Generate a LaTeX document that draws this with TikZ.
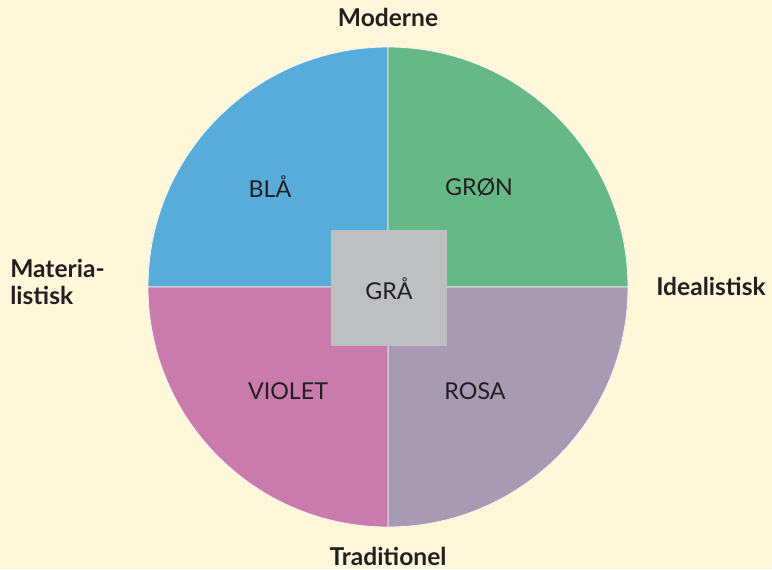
\documentclass[tikz,border=0pt]{standalone}
\usepackage{fontspec}
\setmainfont{Lato}
\usetikzlibrary{positioning}
\definecolor{creme}{HTML}{FFF7D9}
\definecolor{blaa}{HTML}{58ACD9}
\definecolor{groen}{HTML}{66B887}
\definecolor{violet}{HTML}{C97BAC}
\definecolor{rosa}{HTML}{A79AB2}
\definecolor{graa}{HTML}{BEBFC1}
\definecolor{tekst}{HTML}{231F20}
\tikzset{
	%Define style for the axis labels
	akse/.style={text=tekst, font=\fontsize{18.5}{21}\selectfont\bfseries, inner sep=0pt},
	%Define style for the colour labels
	felt/.style={text=tekst, font=\fontsize{17.5}{20}\selectfont, inner sep=0pt},
	% Define style for the quadrants
	kvadrant/.style={draw=white!85!graa, line width=0.6pt}
}
\begin{document}
\begin{tikzpicture}[x=0.02646cm, y=-0.02646cm]
	\fill[creme] (0,0) rectangle (772,569);
	\useasboundingbox (0,0) rectangle (772,569);
	\coordinate (centrum) at (388,287);
	% quadrants
	\filldraw[kvadrant, fill=blaa]   (centrum) -- +(180:240) arc (180:270:240) -- cycle;
	\filldraw[kvadrant, fill=groen]  (centrum) -- +(270:240) arc (270:360:240) -- cycle;
	\filldraw[kvadrant, fill=rosa]   (centrum) -- +(0:240) arc (0:90:240) -- cycle;
	\filldraw[kvadrant, fill=violet] (centrum) -- +(90:240) arc (90:180:240) -- cycle;
	% node GRÅ
	\node[fill=graa, minimum size=116*0.02646cm, inner sep=0pt] (graaboks) at (389,288) {};
	\node[felt] (graa) at (389,289) {GRÅ};
	% nodes for the colours
	\node[felt] (blaa) at (270,187) {BLÅ};
	\node[felt] (groen) at (479,187) {GRØN};
	\node[felt] (violet) at (288,391) {VIOLET};
	\node[felt] (rosa) at (475,391) {ROSA};
	% axis labels
	\node[akse] (moderne) at (388,17) {Moderne};
	\node[akse] (traditionel) at (388,556) {Traditionel};
	\node[akse, anchor=west] (idealistisk) at (656,286) {Idealistisk};
	\node[akse, anchor=west, align=left] (materialistisk) at (10,282) {Materia-\\[0pt]listisk};
\end{tikzpicture}
\end{document}
